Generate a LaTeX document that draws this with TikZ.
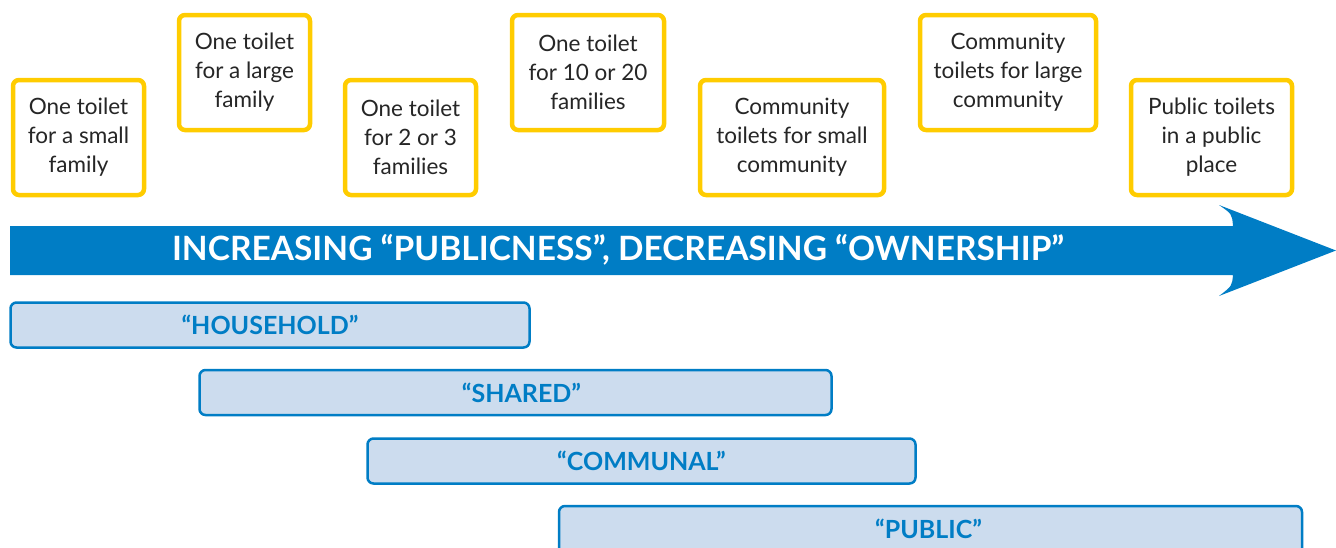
\documentclass[tikz,border=0pt]{standalone}
\usepackage{fontspec}
\setmainfont{Lato}
\definecolor{signyellow}{HTML}{FFCC00}
\definecolor{arrowblue}{HTML}{007DC5}
\definecolor{barfill}{HTML}{CCDCEE}
\tikzset{
	toiletbox/.style={draw=signyellow, line width=4.5pt, rounded corners=6pt, fill=white, align=center, font=\fontsize{22.5}{29}\selectfont, text=black!85, inner sep=0pt},
	usebar/.style={draw=arrowblue, line width=2.5pt, rounded corners=6pt, fill=barfill, inner sep=0pt},
	barlabel/.style={text=arrowblue, font=\bfseries\fontsize{25}{28}\selectfont}
}
\begin{document}
\begin{tikzpicture}[x=1pt,y=-1pt]
	\useasboundingbox (0,0) rectangle (1336,547);
	
	% toilet options
	\node[toiletbox, minimum width=131pt, minimum height=115pt] (small) at (78.5,137.5) {One toilet\\for a small\\family};
	\node[toiletbox, minimum width=131pt, minimum height=115pt] (large) at (244.5,72.5) {One toilet\\for a large\\family};
	\node[toiletbox, minimum width=131pt, minimum height=115pt] (few) at (410.5,137.5) {One toilet\\for 2 or 3\\families};
	\node[toiletbox, minimum width=152pt, minimum height=115pt] (many) at (588,72.5) {One toilet\\for 10 or 20\\families};
	\node[toiletbox, minimum width=184pt, minimum height=115pt] (smallcom) at (792,137.5) {Community\\toilets for small\\community};
	\node[toiletbox, minimum width=176pt, minimum height=115pt] (largecom) at (1008,72.5) {Community\\toilets for large\\community};
	\node[toiletbox, minimum width=161pt, minimum height=115pt] (publicplace) at (1211.5,137.5) {Public toilets\\in a public\\place};
	
	% big arrow
	\fill[arrowblue] (10,226) -- (1233,226) .. controls (1232,214) .. (1219,205) -- (1336,250.5)
		-- (1219,296) .. controls (1232,286) .. (1233,275) -- (10,275) -- cycle;
	\node[text=white, font=\bfseries\fontsize{33.5}{36}\selectfont] (scale) at (618,250) {INCREASING “PUBLICNESS”, DECREASING “OWNERSHIP”};
	
	% categories
	\node[usebar, minimum width=519pt, minimum height=45pt] (household) at (270,325) {};
	\node[barlabel] at (household) {“HOUSEHOLD”};
	\node[usebar, minimum width=632pt, minimum height=45pt] (shared) at (515.5,392.5) {};
	\node[barlabel] at ([xshift=6pt]shared) {“SHARED”};
	\node[usebar, minimum width=548pt, minimum height=45pt] (communal) at (641.5,461) {};
	\node[barlabel] at (communal) {“COMMUNAL”};
	\node[usebar, minimum width=743pt, minimum height=50pt] (public) at (930.5,531) {};
	\node[barlabel] at ([xshift=-2pt,yshift=2pt]public) {“PUBLIC”};
\end{tikzpicture}
\end{document}
